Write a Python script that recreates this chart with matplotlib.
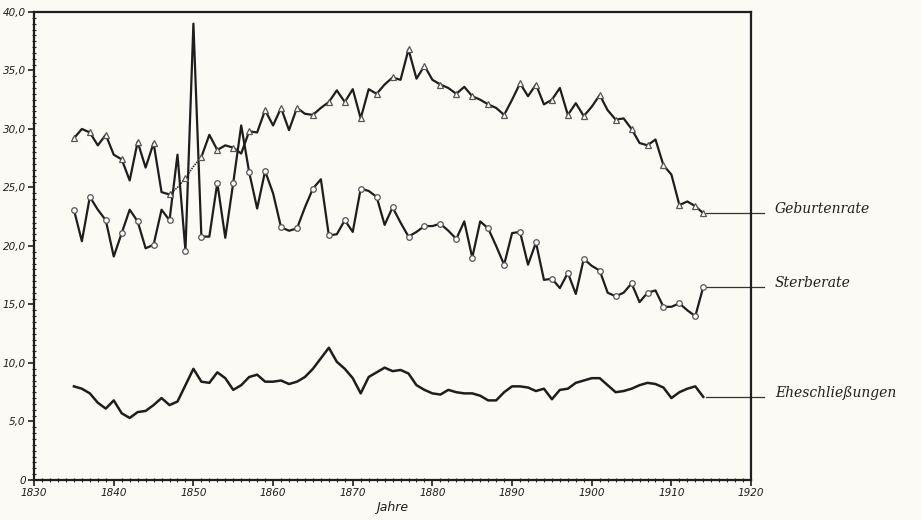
import numpy as np
import matplotlib
matplotlib.use('Agg')
import matplotlib.pyplot as plt
from matplotlib.ticker import MultipleLocator, FuncFormatter

# Jahre 1835 .. 1914
years = np.arange(1835, 1915)

geburten = [29.2, 30.0, 29.7, 28.6, 29.5, 27.8, 27.4, 25.6, 28.9, 26.7,
            28.8, 24.6, 24.4, 25.0, 25.8, 26.8, 27.6, 29.5, 28.2, 28.6,
            28.4, 27.9, 29.8, 29.7, 31.6, 30.3, 31.8, 29.9, 31.8, 31.3,
            31.2, 31.8, 32.3, 33.3, 32.3, 33.4, 30.9, 33.4, 33.0, 33.8,
            34.4, 34.2, 36.8, 34.3, 35.4, 34.2, 33.8, 33.5, 33.0, 33.6,
            32.8, 32.5, 32.1, 31.8, 31.2, 32.5, 33.9, 32.8, 33.8, 32.1,
            32.5, 33.5, 31.2, 32.2, 31.1, 31.9, 32.9, 31.6, 30.8, 30.9,
            30.0, 28.8, 28.6, 29.1, 26.9, 26.1, 23.5, 23.8, 23.4, 22.8]

sterbe = [23.1, 20.4, 24.2, 23.1, 22.2, 19.1, 21.1, 23.1, 22.1, 19.8,
          20.1, 23.1, 22.2, 27.8, 19.6, 39.0, 20.8, 20.8, 25.4, 20.7,
          25.4, 30.3, 26.3, 23.2, 26.4, 24.5, 21.6, 21.3, 21.5, 23.3,
          24.9, 25.7, 20.9, 21.0, 22.2, 21.2, 24.9, 24.7, 24.2, 21.8,
          23.3, 22.0, 20.8, 21.2, 21.7, 21.7, 21.9, 21.3, 20.6, 22.1,
          19.0, 22.1, 21.5, 20.0, 18.4, 21.1, 21.2, 18.4, 20.3, 17.1,
          17.2, 16.4, 17.7, 15.9, 18.9, 18.3, 17.9, 16.0, 15.7, 16.0,
          16.8, 15.2, 16.0, 16.2, 14.8, 14.8, 15.1, 14.5, 14.0, 16.5]

ehe = [8.0, 7.8, 7.4, 6.6, 6.1, 6.8, 5.7, 5.3, 5.8, 5.9,
       6.4, 7.0, 6.4, 6.7, 8.1, 9.5, 8.4, 8.3, 9.2, 8.7,
       7.7, 8.1, 8.8, 9.0, 8.4, 8.4, 8.5, 8.2, 8.4, 8.8,
       9.5, 10.4, 11.3, 10.1, 9.5, 8.7, 7.4, 8.8, 9.2, 9.6,
       9.3, 9.4, 9.1, 8.1, 7.7, 7.4, 7.3, 7.7, 7.5, 7.4,
       7.4, 7.2, 6.8, 6.8, 7.5, 8.0, 8.0, 7.9, 7.6, 7.8,
       6.9, 7.7, 7.8, 8.3, 8.5, 8.7, 8.7, 8.1, 7.5, 7.6,
       7.8, 8.1, 8.3, 8.2, 7.9, 7.0, 7.5, 7.8, 8.0, 7.1]

labels = ['Geburtenrate', 'Sterberate', 'Eheschließungen']

ink = '#1e1e1e'
paper = '#fbfaf5'

geburten = np.array(geburten)
sterbe = np.array(sterbe)
ehe = np.array(ehe)

# markers every second year (odd years) plus the last one
marks = list(range(0, len(years), 2)) + [len(years) - 1]

fig = plt.figure(figsize=(9.21, 5.2), dpi=100, facecolor=paper)
ax = fig.add_axes([0.037, 0.077, 0.7785, 0.9])
ax.set_facecolor(paper)

# birth rate: the years 1847-1851 are drawn dotted in the original
gap = (years > 1847) & (years < 1851)
g_solid = geburten.copy()
g_solid[gap] = np.nan
seg = (years >= 1847) & (years <= 1851)
ax.plot(years, g_solid, color=ink, lw=1.6, zorder=3)
ax.plot(years[seg], geburten[seg], color=ink, lw=1.1, ls=(0, (1, 0.7)), zorder=3)
ax.plot(years[marks], geburten[marks], ls='none', marker='^', ms=4,
        mfc='white', mec='#555555', mew=0.9, zorder=4)

ax.plot(years, sterbe, color=ink, lw=1.6, zorder=3)
ax.plot(years[marks], sterbe[marks], ls='none', marker='o', ms=4,
        mfc='white', mec='#555555', mew=0.9, zorder=4)

ax.plot(years, ehe, color=ink, lw=1.8, zorder=3)

# leader lines and names on the right
last = [geburten[-1], sterbe[-1], ehe[-1]]
offs = [0.0, 0.0, 0.0]
for name, v, o in zip(labels, last, offs):
    ax.plot([years[-1] + 0.4, 1921.6], [v, v], color='#333333', lw=0.9,
            clip_on=False, zorder=2)
    ax.text(1923.0, v + 0.35 + o, name, fontsize=10, style='italic',
            family='DejaVu Serif', color=ink, va='center', ha='left')

ax.set_xlim(1830, 1920)
ax.set_ylim(0, 40)

ax.xaxis.set_major_locator(MultipleLocator(10))
ax.xaxis.set_minor_locator(MultipleLocator(1))
ax.yaxis.set_major_locator(MultipleLocator(5))
ax.yaxis.set_minor_locator(MultipleLocator(0.5))
ax.yaxis.set_major_formatter(FuncFormatter(
    lambda v, p: '0' if v == 0 else ('%.1f' % v).replace('.', ',')))

ax.tick_params(which='major', direction='out', length=4, width=1.2,
               colors=ink, labelsize=7.5, pad=2)
ax.tick_params(which='minor', direction='inout', length=3, width=0.8,
               colors=ink)
for lab in ax.get_xticklabels() + ax.get_yticklabels():
    lab.set_fontstyle('italic')

for s in ax.spines.values():
    s.set_linewidth(1.6)
    s.set_color(ink)

ax.set_xlabel('Jahre', fontsize=9, style='italic', color=ink, labelpad=2)

fig.savefig('out.png', dpi=100, facecolor=paper)
